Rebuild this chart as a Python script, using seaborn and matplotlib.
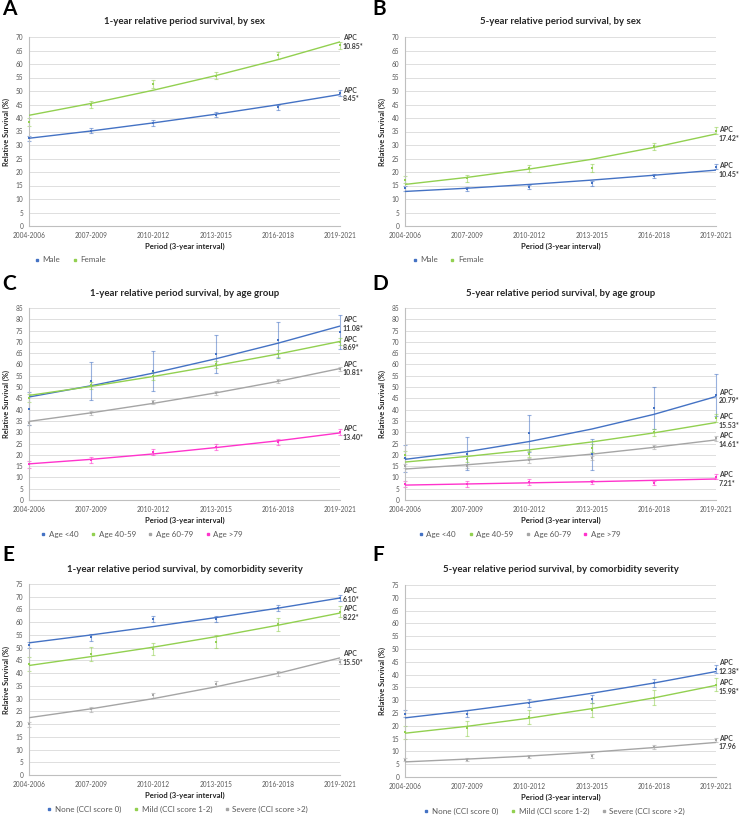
import pandas as pd
import matplotlib.pyplot as plt
from matplotlib.lines import Line2D
import seaborn as sns

#
# Data read off the figure: observed points, error half-widths, fitted trend

periods = ["2004-2006", "2007-2009", "2010-2012", "2013-2015", "2016-2018", "2019-2021"]

# A: 1-year, by sex
a_male_obs = [32.5, 35.3, 38.2, 41.2, 44.0, 49.3]
a_male_err = [1.0, 1.0, 1.0, 1.0, 1.0, 1.0]
a_male_fit = [32.5, 35.2, 38.2, 41.4, 44.9, 48.7]
a_female_obs = [38.5, 45.0, 52.5, 55.7, 63.2, 67.0]
a_female_err = [1.6, 1.4, 1.4, 1.3, 1.3, 1.3]
a_female_fit = [41.0, 45.4, 50.3, 55.7, 61.6, 68.2]

# B: 5-year, by sex
b_male_obs = [14.0, 13.7, 14.5, 15.8, 18.5, 22.0]
b_male_err = [0.9, 0.8, 0.8, 0.8, 0.8, 0.9]
b_male_fit = [12.8, 14.0, 15.4, 17.0, 18.8, 20.7]
b_female_obs = [17.2, 17.6, 21.3, 21.5, 29.5, 35.3]
b_female_err = [1.4, 1.3, 1.4, 1.4, 1.4, 1.3]
b_female_fit = [15.4, 18.0, 21.1, 24.7, 29.1, 34.1]

# C: 1-year, by age group
c_u40_obs = [40.5, 52.7, 57.2, 64.7, 71.0, 74.3]
c_u40_err = [7.5, 8.3, 8.8, 8.3, 8.0, 7.6]
c_u40_fit = [45.6, 50.6, 56.2, 62.5, 69.4, 77.0]
c_4059_obs = [45.0, 50.8, 55.0, 60.0, 64.7, 70.0]
c_4059_err = [1.8, 1.6, 1.7, 1.7, 1.6, 1.6]
c_4059_fit = [46.3, 50.3, 54.7, 59.5, 64.6, 70.2]
c_6079_obs = [34.0, 38.5, 43.5, 47.2, 52.5, 58.0]
c_6079_err = [1.0, 0.9, 0.9, 0.9, 0.9, 0.9]
c_6079_fit = [34.8, 38.6, 42.8, 47.4, 52.5, 58.2]
c_o79_obs = [15.8, 17.8, 21.2, 23.3, 25.8, 30.0]
c_o79_err = [1.5, 1.3, 1.3, 1.3, 1.3, 1.4]
c_o79_fit = [16.0, 18.0, 20.4, 23.2, 26.2, 29.7]

# D: 5-year, by age group
d_u40_obs = [18.5, 20.5, 29.5, 20.2, 40.8, 46.5]
d_u40_err = [6.0, 7.2, 8.1, 7.0, 9.3, 9.2]
d_u40_fit = [18.0, 21.4, 25.9, 31.4, 37.9, 45.8]
d_4059_obs = [20.0, 18.2, 20.3, 23.0, 30.0, 36.3]
d_4059_err = [1.5, 1.4, 1.4, 1.8, 1.6, 1.6]
d_4059_fit = [16.8, 19.3, 22.2, 25.7, 29.7, 34.3]
d_6079_obs = [15.0, 15.0, 17.5, 18.5, 23.5, 27.3]
d_6079_err = [1.0, 1.0, 0.9, 1.0, 0.9, 1.0]
d_6079_fit = [13.7, 15.6, 17.8, 20.3, 23.3, 26.6]
d_o79_obs = [7.0, 7.0, 8.0, 8.0, 7.5, 10.3]
d_o79_err = [1.2, 1.2, 1.2, 1.0, 1.0, 1.1]
d_o79_fit = [6.6, 7.1, 7.6, 8.1, 8.7, 9.3]

# E: 1-year, by comorbidity
e_none_obs = [51.0, 54.0, 61.3, 61.2, 65.5, 69.5]
e_none_err = [1.2, 1.2, 1.2, 1.2, 1.2, 1.2]
e_none_fit = [51.9, 55.0, 58.3, 61.8, 65.5, 69.5]
e_mild_obs = [43.5, 47.6, 49.5, 52.3, 59.2, 64.2]
e_mild_err = [2.8, 2.7, 2.5, 2.5, 2.5, 2.3]
e_mild_fit = [43.0, 46.5, 50.2, 54.3, 58.8, 63.6]
e_sev_obs = [20.0, 25.8, 31.3, 35.8, 40.0, 44.5]
e_sev_err = [1.0, 1.0, 1.0, 1.0, 1.0, 1.0]
e_sev_fit = [22.5, 26.0, 30.0, 34.6, 39.9, 46.0]

# F: 5-year, by comorbidity
f_none_obs = [24.8, 24.8, 29.0, 30.5, 36.8, 42.3]
f_none_err = [1.5, 1.4, 1.5, 1.5, 1.5, 1.5]
f_none_fit = [23.1, 25.9, 29.1, 32.7, 36.7, 41.2]
f_mild_obs = [17.5, 19.0, 23.5, 26.2, 31.0, 36.0]
f_mild_err = [2.5, 2.8, 2.7, 2.8, 2.8, 2.5]
f_mild_fit = [17.1, 19.8, 23.0, 26.7, 30.9, 35.8]
f_sev_obs = [6.8, 6.8, 8.0, 8.2, 11.8, 14.5]
f_sev_err = [0.7, 0.7, 0.7, 0.7, 0.7, 0.7]
f_sev_fit = [5.9, 7.0, 8.2, 9.7, 11.5, 13.5]

sex_labels = ["Male", "Female"]
age_labels = ["Age <40", "Age 40-59", "Age 60-79", "Age >79"]
cci_labels = ["None (CCI score 0)", "Mild (CCI score 1-2)", "Severe (CCI score >2)"]

a_apc = ["8.45*", "10.85*"]
b_apc = ["10.45*", "17.42*"]
c_apc = ["11.08*", "8.69*", "10.81*", "13.40*"]
d_apc = ["20.79*", "15.53*", "14.61*", "7.21*"]
e_apc = ["6.10*", "8.22*", "15.50*"]
f_apc = ["12.38*", "15.98*", "17.96"]

colors = ["#4472C4", "#92D050", "#A5A5A5", "#FF33CC"]

#%%
# Panel specs: letter, title, y max, labels, APC texts, series,
# axes box in pixels (left, bottom, width, height), legend x, letter xy in pixels,
# vertical nudge of the APC labels in points

panels = [
    ("A", "1-year relative period survival, by sex", 70, sex_labels, a_apc,
     [(a_male_obs, a_male_err, a_male_fit), (a_female_obs, a_female_err, a_female_fit)],
     [29, 226, 311, 189], 0.015, (2, 15), [0, 0]),
    ("B", "5-year relative period survival, by sex", 70, sex_labels, b_apc,
     [(b_male_obs, b_male_err, b_male_fit), (b_female_obs, b_female_err, b_female_fit)],
     [405, 226, 311, 189], 0.02, (372, 15), [0, 0]),
    ("C", "1-year relative period survival, by age group", 85, age_labels, c_apc,
     [(c_u40_obs, c_u40_err, c_u40_fit), (c_4059_obs, c_4059_err, c_4059_fit),
      (c_6079_obs, c_6079_err, c_6079_fit), (c_o79_obs, c_o79_err, c_o79_fit)],
     [29, 500, 311, 192], 0.035, (2, 290), [1.5, -1.5, 0, 0]),
    ("D", "5-year relative period survival, by age group", 85, age_labels, d_apc,
     [(d_u40_obs, d_u40_err, d_u40_fit), (d_4059_obs, d_4059_err, d_4059_fit),
      (d_6079_obs, d_6079_err, d_6079_fit), (d_o79_obs, d_o79_err, d_o79_fit)],
     [405, 500, 311, 192], 0.04, (372, 290), [0, 1, 0, 0]),
    ("E", "1-year relative period survival, by comorbidity severity", 75, cci_labels, e_apc,
     [(e_none_obs, e_none_err, e_none_fit), (e_mild_obs, e_mild_err, e_mild_fit),
      (e_sev_obs, e_sev_err, e_sev_fit)],
     [29, 775, 311, 191], 0.055, (2, 561), [2, 0, 0]),
    ("F", "5-year relative period survival, by comorbidity severity", 75, cci_labels, f_apc,
     [(f_none_obs, f_none_err, f_none_fit), (f_mild_obs, f_mild_err, f_mild_fit),
      (f_sev_obs, f_sev_err, f_sev_fit)],
     [405, 777, 311, 192], 0.058, (372, 561), [3, -1, 0]),
]

sns.set_style("white")
plt.rcParams["font.family"] = ["Lato", "DejaVu Sans"]

W, H = 740, 818
fig = plt.figure(figsize=(W / 100, H / 100), dpi=100)

for letter, title, ymax, labels, apcs, series, box, leg_x, let_xy, nudges in panels:
    left, bottom, width, height = box
    ax = fig.add_axes([left / W, 1 - bottom / H, width / W, height / H])

    handles = []
    for i, (obs, err, fit) in enumerate(series):
        col = colors[i]
        df = pd.DataFrame({"x": range(len(periods)), "obs": obs, "err": err, "fit": fit})
        sns.lineplot(data=df, x="x", y="fit", color=col, linewidth=1.0, ax=ax, zorder=3)
        ax.errorbar(df["x"], df["obs"], yerr=df["err"], fmt="none", ecolor=col, alpha=0.55,
                    elinewidth=0.8, capsize=1.6, capthick=0.8, zorder=2, clip_on=False)
        sns.scatterplot(data=df, x="x", y="obs", color=col, marker="s", s=2.5, linewidth=0,
                        ax=ax, zorder=4, clip_on=False)
        ax.annotate("APC\n" + apcs[i], xy=(df["x"].iloc[-1], df["fit"].iloc[-1]),
                    xytext=(2, nudges[i]), textcoords="offset points", ha="left", va="center",
                    fontsize=5, fontweight="bold", color="#404040", linespacing=1.3,
                    annotation_clip=False)
        handles.append(Line2D([], [], marker="s", markersize=2, linestyle="none", color=col))

    ax.set_xlim(0, len(periods) - 1)
    ax.set_ylim(0, ymax)
    ax.set_xticks(range(len(periods)))
    ax.set_xticklabels(periods)
    ax.set_yticks(range(0, ymax + 1, 5))
    ax.grid(axis="y", color="#D9D9D9", linewidth=0.6)
    ax.set_axisbelow(True)
    sns.despine(ax=ax)
    for s in ["left", "bottom"]:
        ax.spines[s].set_color("#BFBFBF")
        ax.spines[s].set_linewidth(0.8)
    ax.tick_params(axis="both", labelsize=4.7, colors="#595959", length=2.5, width=0.6, pad=1.5)
    ax.tick_params(axis="both", color="#BFBFBF")

    ax.set_xlabel("Period (3-year interval)", fontsize=5.6, fontweight="bold", color="#262626")
    ax.xaxis.set_label_coords(0.5, -17 / height)
    ax.set_ylabel("Relative Survival (%)", fontsize=5.4, fontweight="bold", color="#262626")
    ax.yaxis.set_label_coords(-19 / width, 0.5)
    ax.text(0.5, 1 + 15 / height, title, transform=ax.transAxes, ha="center", va="center",
            fontsize=6.95, fontweight="bold", color="#262626")
    fig.text(let_xy[0] / W, 1 - let_xy[1] / H, letter, ha="left", va="baseline",
             fontsize=15, fontweight="bold", color="black")

    ax.legend(handles, labels, loc="center left", bbox_to_anchor=(leg_x - 0.01, -34 / height),
              ncol=len(labels), frameon=False, fontsize=5.8, labelcolor="#595959",
              handlelength=0.8, handletextpad=0.3, columnspacing=1.4, borderaxespad=0)

fig.savefig("out.png", dpi=100)
